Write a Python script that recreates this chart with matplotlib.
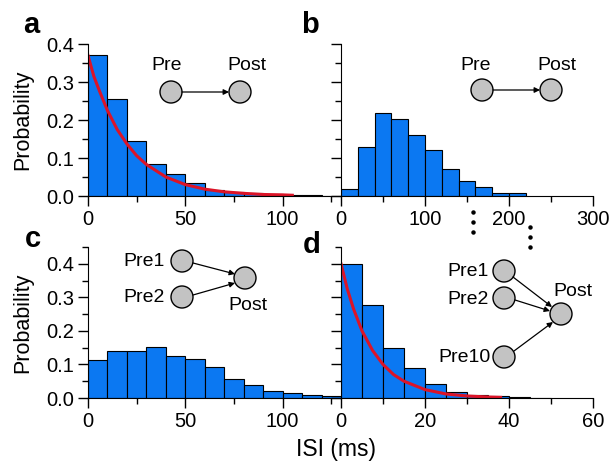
import numpy as np
import matplotlib
matplotlib.use('Agg')
import matplotlib.pyplot as plt
from matplotlib.patches import Circle
from matplotlib.ticker import MultipleLocator, FormatStrFormatter

plt.rcParams['font.family'] = ['Liberation Sans', 'DejaVu Sans']

# ISI histograms (bin left edges, probabilities)
a_edges = [0, 10, 20, 30, 40, 50, 60, 70, 80, 90, 100, 110, 120]
a_prob = [0.370, 0.256, 0.144, 0.085, 0.057, 0.033, 0.017, 0.011, 0.008, 0.006, 0.003, 0.002, 0.001]
a_fit_x = [0, 3, 6, 10, 15, 20, 25, 30, 40, 50, 60, 70, 80, 90, 100, 105]
a_fit_y = [0.37, 0.315, 0.275, 0.225, 0.175, 0.137, 0.106, 0.083, 0.050, 0.030, 0.018, 0.011, 0.007, 0.004, 0.003, 0.002]

b_edges = [0, 20, 40, 60, 80, 100, 120, 140, 160, 180, 200]
b_prob = [0.018, 0.128, 0.218, 0.202, 0.161, 0.120, 0.072, 0.039, 0.024, 0.009, 0.009]

c_edges = [0, 10, 20, 30, 40, 50, 60, 70, 80, 90, 100, 110, 120]
c_prob = [0.114, 0.139, 0.139, 0.151, 0.124, 0.116, 0.091, 0.056, 0.038, 0.022, 0.015, 0.009, 0.005]

d_edges = [0, 5, 10, 15, 20, 25, 30, 35, 40, 45]
d_prob = [0.400, 0.276, 0.149, 0.090, 0.042, 0.018, 0.008, 0.005, 0.002, 0.001]
d_fit_x = [0, 1.5, 3, 5, 7.5, 10, 12.5, 15, 20, 25, 30, 35, 38]
d_fit_y = [0.40, 0.325, 0.265, 0.20, 0.142, 0.10, 0.070, 0.050, 0.025, 0.012, 0.006, 0.003, 0.002]

blue = '#0b78f2'
red = '#dc1428'
W, H = 611, 467

fig = plt.figure(figsize=(W / 100, H / 100), dpi=100)
ax_a = fig.add_axes([88 / W, 1 - 196 / H, 253 / W, 152 / H])
ax_b = fig.add_axes([341 / W, 1 - 196 / H, 252 / W, 152 / H])
ax_c = fig.add_axes([88 / W, 1 - 398 / H, 253 / W, 151 / H])
ax_d = fig.add_axes([341 / W, 1 - 398 / H, 252 / W, 151 / H])


def style(ax, xlim, ylim, xmaj, xmin, labels_y):
    ax.set_xlim(*xlim)
    ax.set_ylim(*ylim)
    ax.spines['top'].set_visible(False)
    ax.spines['right'].set_visible(False)
    ax.xaxis.set_major_locator(MultipleLocator(xmaj))
    ax.xaxis.set_minor_locator(MultipleLocator(xmin))
    ax.yaxis.set_major_locator(MultipleLocator(0.1))
    ax.yaxis.set_minor_locator(MultipleLocator(0.05))
    ax.tick_params(which='major', length=7, width=1, labelsize=14.5, pad=3)
    ax.tick_params(which='minor', length=4, width=1)
    ax.set_facecolor('none')
    if labels_y:
        ax.yaxis.set_major_formatter(FormatStrFormatter('%.1f'))
        ax.set_ylabel('Probability', fontsize=15.5, labelpad=9)
    else:
        ax.set_yticklabels([])


ax_a.bar(a_edges, a_prob, width=10, align='edge', color=blue, edgecolor='black', lw=0.8)
ax_a.plot(a_fit_x, a_fit_y, color=red, lw=2.2)
style(ax_a, (0, 130), (0, 0.4), 50, 25, True)

ax_b.bar(b_edges, b_prob, width=20, align='edge', color=blue, edgecolor='black', lw=0.8)
style(ax_b, (0, 300), (0, 0.4), 100, 50, False)

ax_c.bar(c_edges, c_prob, width=10, align='edge', color=blue, edgecolor='black', lw=0.8)
style(ax_c, (0, 130), (0, 0.45), 50, 25, True)

ax_d.bar(d_edges, d_prob, width=5, align='edge', color=blue, edgecolor='black', lw=0.8)
ax_d.plot(d_fit_x, d_fit_y, color=red, lw=2.2)
style(ax_d, (0, 60), (0, 0.45), 20, 10, False)

# overlay in pixel coordinates for letters and network sketches
ov = fig.add_axes([0, 0, 1, 1])
ov.set_xlim(0, W)
ov.set_ylim(H, 0)
ov.axis('off')
ov.set_zorder(10)

for letter, x, y in [('a', 31, 33), ('b', 310, 33), ('c', 33, 247), ('d', 312, 253)]:
    ov.text(x, y, letter, fontsize=21, fontweight='bold', ha='center', va='baseline')

ov.text(336, 456, 'ISI (ms)', fontsize=16.5, ha='center', va='baseline')

r = 11


def node(x, y):
    ov.add_patch(Circle((x, y), r, facecolor='#c3c3c3', edgecolor='black', lw=1, zorder=3))


def arrow(x0, y0, x1, y1):
    ov.annotate('', xy=(x1, y1), xytext=(x0, y0),
                arrowprops=dict(arrowstyle='-|>', lw=0.9, color='black',
                                mutation_scale=8, shrinkA=0, shrinkB=0))


fs = 14
# a
node(171, 92)
node(240, 92)
arrow(182, 92, 229, 92)
ov.text(167, 66, 'Pre', fontsize=fs, ha='center', va='center')
ov.text(247, 66, 'Post', fontsize=fs, ha='center', va='center')

# b
node(482, 90)
node(551, 90)
arrow(493, 90, 540, 90)
ov.text(476, 66, 'Pre', fontsize=fs, ha='center', va='center')
ov.text(557, 66, 'Post', fontsize=fs, ha='center', va='center')

# c
node(182, 261)
node(182, 297)
node(245, 278)
arrow(193, 263, 235, 274)
arrow(193, 295, 235, 283)
ov.text(144, 262, 'Pre1', fontsize=fs, ha='center', va='center')
ov.text(144, 298, 'Pre2', fontsize=fs, ha='center', va='center')
ov.text(248, 305, 'Post', fontsize=fs, ha='center', va='center')

# d
node(504, 271)
node(504, 298)
node(504, 357)
node(561, 314)
arrow(513, 277, 552, 307)
arrow(515, 300, 550, 311)
arrow(514, 351, 553, 322)
ov.text(468, 272, 'Pre1', fontsize=fs, ha='center', va='center')
ov.text(468, 299, 'Pre2', fontsize=fs, ha='center', va='center')
ov.text(464, 358, 'Pre10', fontsize=fs, ha='center', va='center')
ov.text(573, 291, 'Post', fontsize=fs, ha='center', va='center')

# ellipsis dots
for yy in (212, 222, 232):
    ov.plot(472.5, yy, 'o', color='black', ms=2.2)
for yy in (227, 237, 247):
    ov.plot(530, yy, 'o', color='black', ms=2.2)

fig.savefig('out.png', dpi=100)
